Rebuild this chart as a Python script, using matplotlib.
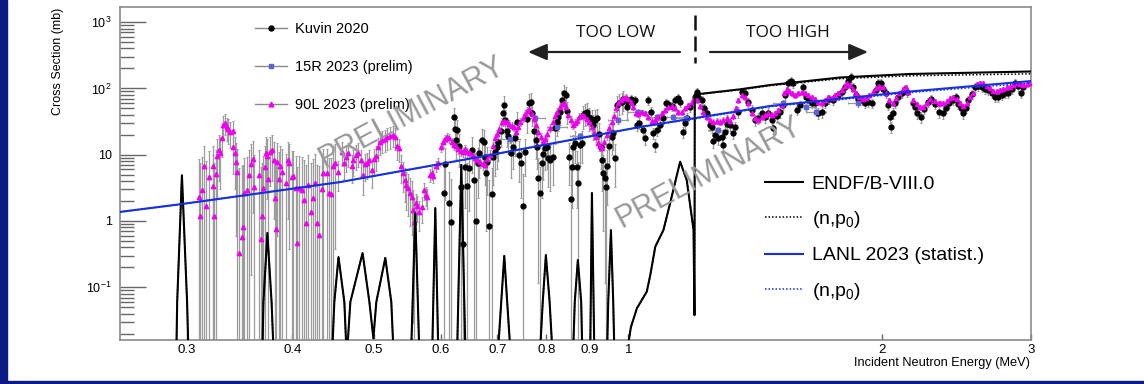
import numpy as np
import matplotlib
matplotlib.use("Agg")
import matplotlib.pyplot as plt
from matplotlib.lines import Line2D
from matplotlib.patches import Rectangle, FancyArrowPatch
from matplotlib.ticker import FixedLocator, FixedFormatter, NullLocator

plt.rcParams['font.family'] = ['Liberation Sans', 'DejaVu Sans']
plt.rcParams['mathtext.fontset'] = 'custom'
plt.rcParams['mathtext.rm'] = 'Liberation Sans'
plt.rcParams['mathtext.default'] = 'regular'

# ---------------- data ----------------
# Kuvin 2020 (MeV, mb)
kuvin_E = [
    0.6055, 0.6071, 0.6136, 0.6171, 0.6222, 0.6238, 0.6255, 0.6272, 0.6305, 0.6342,
    0.6377, 0.6412, 0.6446, 0.6481, 0.6535, 0.657, 0.6606, 0.6641, 0.6659, 0.6716,
    0.6752, 0.6771, 0.6789, 0.6807, 0.6843, 0.6902, 0.692, 0.6958, 0.6995, 0.7014,
    0.7072, 0.7111, 0.7131, 0.715, 0.7188, 0.7207, 0.7268, 0.7307, 0.7347, 0.7386,
    0.7426, 0.7469, 0.751, 0.7551, 0.7591, 0.7632, 0.7676, 0.7697, 0.7739, 0.7781,
    0.7801, 0.7822, 0.7866, 0.7909, 0.7931, 0.7974, 0.8016, 0.8038, 0.8083, 0.8149,
    0.8194, 0.8237, 0.8259, 0.8307, 0.8353, 0.8398, 0.8443, 0.8466, 0.8511, 0.856,
    0.8584, 0.8607, 0.8654, 0.870, 0.8723, 0.8772, 0.882, 0.8844, 0.8892, 0.894,
    0.8988, 0.9066, 0.909, 0.914, 0.9188, 0.9238, 0.929, 0.9316, 0.9341, 0.9392,
    0.9417, 0.9442, 0.9493, 0.9573, 0.9599, 0.9651, 0.9703, 0.9755, 0.9838, 0.9864,
    0.9971, 1.000, 1.008, 1.014, 1.019, 1.025, 1.030, 1.041, 1.047, 1.056,
    1.065, 1.071, 1.077, 1.082, 1.091, 1.100, 1.109, 1.115, 1.127, 1.136,
    1.145, 1.152, 1.161, 1.168, 1.174, 1.184, 1.200, 1.207, 1.210, 1.224,
    1.230, 1.240, 1.251, 1.258, 1.261, 1.268, 1.278, 1.292, 1.296, 1.303,
    1.310, 1.321, 1.332, 1.339, 1.350, 1.364, 1.376, 1.387, 1.402, 1.413,
    1.424, 1.441, 1.453, 1.464, 1.481, 1.485, 1.501, 1.514, 1.526, 1.535,
    1.547, 1.559, 1.568, 1.585, 1.598, 1.611, 1.624, 1.637, 1.652, 1.666,
    1.679, 1.697, 1.711, 1.730, 1.749, 1.759, 1.773, 1.792, 1.806, 1.821,
    1.837, 1.847, 1.862, 1.872, 1.892, 1.908, 1.923, 1.945, 1.966, 1.976,
    1.993, 2.004, 2.021, 2.031, 2.043, 2.049, 2.060, 2.071, 2.088, 2.111,
    2.128, 2.139, 2.175, 2.187, 2.198, 2.222, 2.240, 2.264, 2.284, 2.309,
    2.334, 2.360, 2.379, 2.399, 2.425, 2.444, 2.457, 2.479, 2.492, 2.513,
    2.526, 2.554, 2.575, 2.595, 2.624, 2.646, 2.667, 2.698, 2.720, 2.742,
    2.772, 2.795, 2.817, 2.849, 2.872, 2.895, 2.919, 2.935]
kuvin_xs = [
    2.64, 7.24, 1.87, 0.970, 37.0, 24.4, 16.7, 23.6, 13.5, 3.26,
    0.450, 6.52, 3.37, 6.30, 11.8, 4.15, 1.00, 7.50, 10.6, 16.7,
    15.6, 9.24, 5.30, 7.76, 0.840, 2.55, 9.24, 11.0, 13.1, 15.6,
    22.8, 42.5, 56.2, 33.4, 22.8, 19.1, 10.6, 13.1, 17.8, 31.2,
    9.90, 7.50, 1.68, 11.0, 34.5, 60.2, 62.3, 42.5, 22.8, 16.7,
    13.1, 4.45, 2.64, 7.50, 10.3, 12.6, 13.1, 8.92, 8.32, 9.24,
    25.3, 31.2, 37.0, 44.0, 66.8, 85.2, 79.5, 45.6, 9.24, 2.15,
    6.52, 13.1, 15.0, 6.52, 3.74, 14.0, 15.0, 39.7, 42.5, 44.0,
    37.0, 34.5, 28.1, 33.4, 35.8, 20.5, 13.1, 8.32, 5.30, 4.45,
    3.26, 6.75, 13.5, 18.5, 21.3, 8.92, 56.2, 60.2, 62.3, 69.2,
    52.4, 60.2, 69.2, 62.3, 66.8, 28.1, 30.1, 23.6, 17.8, 66.8,
    44.0, 21.3, 14.0, 23.6, 28.1, 35.8, 60.2, 58.1, 54.2, 66.8,
    71.6, 62.3, 22.0, 30.1, 35.8, 52.4, 74.2, 88.3, 74.2, 66.8,
    50.6, 42.5, 28.1, 26.2, 16.1, 19.8, 17.8, 18.5, 14.0, 22.0,
    29.1, 28.1, 21.3, 26.2, 44.0, 88.3, 85.2, 62.3, 47.2, 33.4,
    35.8, 42.5, 37.0, 42.5, 33.4, 25.3, 38.4, 44.0, 56.2, 79.5,
    120.7, 129.5, 120.7, 47.2, 56.2, 105, 74.2, 66.8, 60.2, 60.2,
    42.5, 44.0, 60.2, 69.2, 66.8, 74.2, 79.5, 88.3, 105, 129.5,
    148, 105, 79.5, 69.2, 66.8, 60.2, 62.3, 60.2, 94.6, 120.7,
    120.7, 97.9, 85.2, 56.2, 37.0, 26.2, 42.5, 60.2, 74.2, 85.2,
    97.9, 88.3, 60.2, 52.4, 42.5, 37.0, 48.9, 62.3, 69.2, 58.1,
    44.0, 42.5, 50.6, 60.2, 66.8, 74.2, 58.1, 50.6, 42.5, 50.6,
    66.8, 82.3, 105, 108.7, 105, 97.9, 94.6, 85.2, 74.2, 74.2,
    79.5, 85.2, 85.2, 97.9, 120.7, 108.7, 85.2, 105]

# 15R 2023 (prelim)
r15_E = [0.725, 0.776, 0.824, 0.877, 0.973, 1.027, 1.082, 1.130, 1.171, 1.278,
         1.526, 1.624, 1.670, 1.872]
r15_xs = [17.3, 35.8, 26.2, 19.1, 33.4, 44.0, 37.0, 37.0, 35.8, 23.6,
          60.2, 52.4, 44.0, 60.2]

# 90L 2023 (prelim)
l90_E = [
    0.310, 0.311, 0.313, 0.314, 0.316, 0.319, 0.322, 0.3225, 0.3234, 0.3251,
    0.326, 0.3278, 0.3288, 0.3306, 0.3315, 0.3333, 0.3351, 0.336, 0.3379, 0.3398,
    0.3407, 0.3425, 0.3434, 0.3444, 0.3462, 0.3491, 0.350, 0.351, 0.3538, 0.3557,
    0.3578, 0.3597, 0.3607, 0.3656, 0.3677, 0.3687, 0.3697, 0.3717, 0.3727, 0.3737,
    0.3747, 0.3768, 0.3789, 0.3809, 0.382, 0.383, 0.384, 0.3861, 0.3873, 0.3894,
    0.3937, 0.3957, 0.3968, 0.4002, 0.4013, 0.4035, 0.4056, 0.4078, 0.4111, 0.4134,
    0.4156, 0.4178, 0.4213, 0.4236, 0.426, 0.4282, 0.4305, 0.4343, 0.4354, 0.4402,
    0.4425, 0.4449, 0.4473, 0.4498, 0.4534,
    0.4585, 0.461, 0.4635, 0.4659, 0.4712, 0.4724, 0.4763, 0.4788, 0.4829, 0.4855,
    0.4882, 0.4908, 0.4934, 0.4976, 0.5003, 0.503, 0.5057, 0.5085, 0.5113, 0.5155,
    0.5182, 0.5226, 0.5269, 0.5298, 0.5326, 0.5354, 0.5385, 0.5414, 0.5444, 0.5458,
    0.5487, 0.5518, 0.5548, 0.5563, 0.5579, 0.5608, 0.5623, 0.5654, 0.5702, 0.5733,
    0.5764, 0.5779, 0.5828, 0.586, 0.5876, 0.5924, 0.5955, 0.6005, 0.6038, 0.6071,
    0.6103, 0.6136, 0.6188, 0.6222, 0.6255, 0.6288, 0.6342, 0.6377, 0.6412, 0.6446,
    0.6499, 0.6552, 0.6588, 0.6623, 0.6679, 0.6734, 0.6771, 0.6807, 0.6864, 0.692,
    0.6958, 0.6995, 0.7033, 0.7092, 0.7131, 0.7188, 0.7227, 0.7288, 0.7328, 0.7367,
    0.7406, 0.7449, 0.751, 0.7551, 0.7591, 0.7632, 0.7697, 0.7739, 0.7781, 0.7822,
    0.7887, 0.7931, 0.7974, 0.8016, 0.8083, 0.8149, 0.8194, 0.8237, 0.8307, 0.8353,
    0.8398, 0.8443, 0.8488, 0.856, 0.8607, 0.8654, 0.870, 0.8747, 0.882, 0.8868,
    0.894, 0.8988, 0.9066, 0.9115, 0.9164, 0.9213, 0.9265, 0.9316, 0.9367, 0.9442,
    0.9493, 0.9573, 0.9626, 0.9677, 0.9729, 0.981, 0.9864, 0.9944, 1.000, 1.008,
    1.014, 1.022, 1.027, 1.039, 1.047, 1.056, 1.068, 1.077, 1.085, 1.097,
    1.106, 1.115, 1.127, 1.136, 1.145, 1.158, 1.168, 1.177, 1.191, 1.197,
    1.207, 1.217, 1.227, 1.240, 1.251, 1.261, 1.275, 1.285, 1.296, 1.310,
    1.321, 1.332, 1.343, 1.350, 1.364, 1.376, 1.387, 1.402, 1.413, 1.424,
    1.441, 1.453, 1.464, 1.481, 1.493, 1.505, 1.522, 1.531, 1.543, 1.551,
    1.564, 1.576, 1.589, 1.607, 1.620, 1.633, 1.652, 1.666, 1.679, 1.697,
    1.711, 1.725, 1.745, 1.759, 1.773, 1.792, 1.806, 1.816, 1.832, 1.847,
    1.862, 1.877, 1.897, 1.913, 1.928, 1.950, 1.966, 1.982, 2.004, 2.021,
    2.037, 2.060, 2.077, 2.093, 2.116, 2.133, 2.145, 2.175, 2.198, 2.216,
    2.234, 2.258, 2.278, 2.309, 2.334, 2.341, 2.360, 2.386, 2.405, 2.425,
    2.451, 2.472, 2.492, 2.519, 2.540, 2.561, 2.589, 2.610, 2.631, 2.660,
    2.683, 2.705, 2.734, 2.757, 2.780, 2.810, 2.833, 2.856, 2.887, 2.911,
    2.935, 2.967, 2.983]
l90_xs = [
    2.30, 1.19, 2.93, 6.75, 1.68, 4.61, 3.37, 6.75, 1.19, 5.11,
    9.56, 11.8, 10.6, 17.8, 28.1, 30.1, 26.2, 24.4, 22.0, 22.8,
    13.1, 10.6, 7.76, 5.49, 0.329, 0.574, 0.812, 2.64, 2.93, 4.94,
    7.24, 8.61, 3.26, 4.94, 0.535, 1.19, 3.14, 6.52, 10.6, 9.56,
    4.30, 11.0, 11.8, 8.32, 2.23, 0.757, 7.76, 4.30, 6.75, 5.49,
    3.74, 8.32, 7.50, 4.61, 4.7, 3.14, 0.466, 3.14, 2.93, 2.07,
    0.937, 3.49, 1.37, 2.23, 3.74, 0.937, 0.615, 3.04, 5.30, 5.30,
    2.64, 2.55, 6.75, 7.50, 5.49,
    11.0, 7.50, 9.24, 10.6, 6.75, 8.32, 9.90, 10.6, 8.32, 4.94,
    7.24, 7.50, 8.32, 5.88, 8.61, 9.56, 13.1, 15.6, 16.7, 17.3,
    18.5, 19.1, 19.8, 18.5, 13.5, 12.6, 6.75, 5.30, 4.15, 3.49,
    3.14, 2.64, 2.30, 1.47, 0.970, 1.87, 1.68, 1.37, 1.62, 2.93,
    2.47, 2.30, 4.94, 5.30, 4.77, 6.75, 7.50, 13.1, 15.6, 17.3,
    18.5, 17.8, 15.6, 14.0, 13.5, 12.2, 11.4, 11.0, 12.2, 11.0,
    10.6, 9.90, 8.92, 8.32, 7.76, 7.24, 6.99, 8.61, 9.90, 13.5,
    17.8, 20.5, 24.4, 31.2, 32.3, 31.2, 29.1, 27.1, 26.2, 22.0,
    26.2, 31.2, 35.8, 41.1, 45.6, 48.9, 41.1, 34.5, 28.1, 22.0,
    18.5, 15.6, 17.3, 20.5, 25.3, 31.2, 38.4, 44.0, 52.4, 58.1,
    60.2, 52.4, 39.7, 33.4, 28.1, 30.1, 32.3, 37.0, 39.7, 38.4,
    34.5, 31.2, 26.2, 21.3, 18.5, 15.0, 13.5, 12.6, 15.6, 19.8,
    25.3, 31.2, 38.4, 50.6, 60.2, 66.8, 71.6, 74.2, 69.2, 62.3,
    52.4, 42.5, 41.1, 44.0, 42.5, 37.0, 32.3, 33.4, 37.0, 42.5,
    47.2, 52.4, 54.2, 50.6, 44.0, 44.0, 50.6, 56.2, 62.3, 71.6,
    66.8, 54.2, 44.0, 37.0, 33.4, 31.2, 32.3, 31.2, 33.4, 35.8,
    32.3, 38.4, 50.6, 66.8, 79.5, 74.2, 60.2, 42.5, 35.8, 33.4,
    37.0, 39.7, 42.5, 39.7, 42.5, 47.2, 56.2, 85.2, 97.9, 91.4,
    85.2, 79.5, 85.2, 88.3, 85.2, 79.5, 74.2, 69.2, 62.3, 60.2,
    66.8, 74.2, 71.6, 79.5, 85.2, 94.6, 108.7, 120.7, 112.5, 97.9,
    85.2, 74.2, 69.2, 71.6, 79.5, 88.3, 101, 108.7, 105, 85.2,
    66.8, 60.2, 71.6, 85.2, 97.9, 105, 88.3, 66.8, 58.1, 52.4,
    52.4, 60.2, 69.2, 64.5, 60.2, 59.5, 60.2, 64.5, 71.6, 74.2,
    69.2, 60.2, 54.2, 60.2, 74.2, 85.2, 116.6, 120.7, 120.7, 108.7,
    101, 91.4, 91.4, 94.6, 97.9, 105, 105, 112.5, 120.7, 116.6,
    112.5, 116.6, 120.7]

# ENDF/B-VIII.0 evaluation (MeV, mb); values below the frame are out of view
endf_E = [0.25, 0.2916, 0.2922, 0.2960, 0.3002, 0.3012,
          0.3687, 0.3697, 0.3737, 0.3780, 0.3799,
          0.4461, 0.4486, 0.4537, 0.4610, 0.4635,
          0.4648, 0.4686, 0.4845, 0.4936, 0.4990, 0.5030, 0.5155, 0.5240, 0.5269,
          0.5533, 0.5594, 0.5654,
          0.5860, 0.5908, 0.5955,
          0.6272, 0.6342, 0.6412,
          0.7014, 0.7072, 0.7131, 0.7188, 0.7248,
          0.7866, 0.7920, 0.7988, 0.8070, 0.8127,
          0.8607, 0.8643, 0.8716, 0.8796, 0.8820,
          0.9016, 0.9057, 0.9115,
          0.9442, 0.9469, 0.9539, 0.9599, 0.9626,
          0.998, 1.0074, 1.0239, 1.0519, 1.062, 1.0766, 1.1008, 1.121, 1.152,
          1.173, 1.195, 1.198,
          1.199, 1.357, 1.473, 1.782, 2.157, 3.0]
endf_xs = [0.005, 0.012, 0.06, 4.9, 0.06, 0.012,
           0.012, 0.06, 0.659, 0.06, 0.012,
           0.012, 0.06, 0.286, 0.06, 0.012,
           0.012, 0.06, 0.329, 0.06, 0.017, 0.06, 0.277, 0.06, 0.012,
           0.012, 1.3, 0.012,
           0.012, 1.57, 0.012,
           0.012, 7.0, 0.012,
           0.012, 0.06, 0.297, 0.06, 0.012,
           0.012, 0.06, 0.307, 0.06, 0.012,
           0.012, 0.06, 0.258, 0.06, 0.012,
           0.012, 2.64, 0.012,
           0.012, 0.06, 0.731, 0.06, 0.012,
           0.012, 0.0252, 0.0482, 0.0859, 0.153, 0.410, 0.731, 1.85, 7.84,
           4.15, 0.731, 0.038,
           80.9, 96.9, 112.5, 146, 165, 180]
# ENDF (n,p0) partial: identical below 1.2 MeV, slightly lower above
endf_np0_hiE = [1.199, 1.357, 1.473, 1.782, 2.157, 3.0]
endf_np0_hixs = [80.0, 95.5, 110.0, 140.0, 155.0, 166.0]

# LANL 2023 statistical calculation
lanl_E = [0.25, 0.2948, 0.456, 0.6864, 1.033, 1.473, 2.157, 3.0]
lanl_xs = [1.37, 1.79, 3.87, 9.9, 26.2, 54.3, 89.8, 129.0]
lanl_np0_xs = [1.37, 1.79, 3.87, 9.9, 26.0, 53.0, 86.5, 121.0]

# error-bar sizes per energy band
band_edges = [0.25, 0.45, 0.56, 1.0, 3.1]
l90_err_rel = [0.15, 0.30, 0.12, 0.08]
l90_err_abs = [6.0, 1.0, 0.5, 0.5]
kuvin_err_rel = [0.30, 0.30, 0.30, 0.15]
kuvin_err_abs = [3.0, 3.0, 3.0, 1.0]
r15_err_rel = 0.12
r15_bin_halfwidth = 0.028

x_ticks = [0.3, 0.4, 0.5, 0.6, 0.7, 0.8, 0.9, 1, 2, 3]
x_ticklabels = ['0.3', '0.4', '0.5', '0.6', '0.7', '0.8', '0.9', '1', '2', '3']
y_ticks = [0.1, 1, 10, 100, 1000]
y_ticklabels = [r'$10^{-1}$', '1', '10', r'$10^{2}$', r'$10^{3}$']

# ---------------- figure ----------------
W, H = 1144, 384
fig = plt.figure(figsize=(W / 100, H / 100), dpi=100)
fig.patch.set_facecolor('white')
ax = fig.add_axes([120 / W, 1 - 340 / H, 911 / W, 333 / H])
ax.set_xscale('log')
ax.set_yscale('log')
ax.set_xlim(0.25, 3.0)
ax.set_ylim(0.01603, 1690)


def band_err(E, xs, rel, absv):
    E = np.asarray(E)
    xs = np.asarray(xs)
    idx = np.clip(np.searchsorted(band_edges, E, side='right') - 1, 0, len(rel) - 1)
    return np.asarray(rel)[idx] * xs + np.asarray(absv)[idx]


k_err = band_err(kuvin_E, kuvin_xs, kuvin_err_rel, kuvin_err_abs)
l_err = band_err(l90_E, l90_xs, l90_err_rel, l90_err_abs)

ebar_kw = dict(fmt='none', ecolor='#9c9c9c', elinewidth=0.9, capsize=1.0,
               capthick=0.8, zorder=2)
ax.errorbar(kuvin_E, kuvin_xs, yerr=k_err, **ebar_kw)
ax.errorbar(l90_E, l90_xs, yerr=l_err, **ebar_kw)
ax.errorbar(r15_E, r15_xs, yerr=np.array(r15_xs) * r15_err_rel,
            xerr=np.array(r15_E) * r15_bin_halfwidth, **ebar_kw)

ax.plot(kuvin_E, kuvin_xs, 'o', color='black', ms=3.5, ls='none', zorder=3)
ax.plot(r15_E, r15_xs, 's', color='#5b63d6', ms=3.4, ls='none', zorder=3.5)
ax.plot(l90_E, l90_xs, '^', color='#f000f0', ms=3.1, ls='none', zorder=4)

n_low = endf_E.index(1.199)
endf_np0_E = endf_E[:n_low] + endf_np0_hiE
endf_np0_xs = endf_xs[:n_low] + endf_np0_hixs

ax.plot(endf_E, endf_xs, color='black', lw=1.5, zorder=5)
ax.plot(endf_np0_E, endf_np0_xs, color='black', lw=1.1, ls=(0, (1, 1.3)), zorder=5.1)
ax.plot(lanl_E, lanl_xs, color='#1530e0', lw=1.5, zorder=5)
ax.plot(lanl_E, lanl_np0_xs, color='#1530e0', lw=1.1, ls=(0, (1, 1.3)), zorder=5.1)

# axes styling
ax.xaxis.set_major_locator(FixedLocator(x_ticks))
ax.xaxis.set_major_formatter(FixedFormatter(x_ticklabels))
ax.xaxis.set_minor_locator(NullLocator())
ax.yaxis.set_major_locator(FixedLocator(y_ticks))
ax.yaxis.set_major_formatter(FixedFormatter(y_ticklabels))
ax.yaxis.set_minor_locator(FixedLocator([m * 10.0 ** k for k in range(-2, 4)
                                         for m in range(2, 10)]))
ax.tick_params(axis='y', which='major', direction='in', length=19, width=1,
               color='#666666', labelsize=9, pad=6)
ax.tick_params(axis='y', which='minor', direction='in', length=10, width=1,
               color='#666666')
ax.tick_params(axis='x', which='major', direction='in', length=4, width=1,
               color='#666666', labelsize=9.5, pad=3)
for s in ax.spines.values():
    s.set_color('#8a8a8a')
    s.set_linewidth(1.2)

fig.text(58 / W, 1 - 8 / H, 'Cross Section (mb)', rotation=90, ha='center',
         va='top', fontsize=9)
fig.text(1030 / W, 1 - 363 / H, 'Incident Neutron Energy (MeV)', ha='right',
         va='center', fontsize=9.2)

# legends
h1 = [Line2D([], [], color='#8a8a8a', lw=1, marker='o', ms=3.6, mfc='black', mec='black'),
      Line2D([], [], color='#8a8a8a', lw=1, marker='s', ms=3.4, mfc='#5b63d6', mec='#5b63d6'),
      Line2D([], [], color='#8a8a8a', lw=1, marker='^', ms=3.4, mfc='#f000f0', mec='#f000f0')]
leg1 = ax.legend(h1, ['Kuvin 2020', '15R 2023 (prelim)', '90L 2023 (prelim)'],
                 loc='upper left', bbox_to_anchor=(0.148, 0.955), frameon=False,
                 fontsize=10.5, handlelength=2.2, handletextpad=0.55,
                 labelspacing=1.65, borderpad=0, borderaxespad=0)
leg1.set_zorder(20)
ax.add_artist(leg1)

h2 = [Line2D([], [], color='black', lw=1.5),
      Line2D([], [], color='black', lw=1.1, ls=(0, (1, 1.3))),
      Line2D([], [], color='#1530e0', lw=1.5),
      Line2D([], [], color='#1530e0', lw=1.1, ls=(0, (1, 1.3)))]
leg2 = ax.legend(h2, ['ENDF/B-VIII.0', r'(n,p$_0$)', 'LANL 2023 (statist.)', r'(n,p$_0$)'],
                 loc='upper left', bbox_to_anchor=(0.708, 0.495), frameon=False,
                 fontsize=14, handlelength=1.95, handletextpad=0.45,
                 labelspacing=0.85, borderpad=0, borderaxespad=0)
leg2.set_zorder(20)

# watermarks
for cx, cy in [(412, 113), (709, 173)]:
    fig.text(cx / W, 1 - cy / H, 'PRELIMINARY', rotation=28, ha='center',
             va='center', fontsize=22, color='#999999', zorder=30)

# slide annotations
fig.text(616 / W, 1 - 33 / H, 'TOO LOW', family=['Open Sans', 'DejaVu Sans'],
         fontsize=12.5, ha='center', va='center', color='#111111')
fig.text(788 / W, 1 - 33 / H, 'TOO HIGH', family=['Open Sans', 'DejaVu Sans'],
         fontsize=12.5, ha='center', va='center', color='#111111')
for x0, x1 in [(680, 528), (710, 868)]:
    fig.add_artist(FancyArrowPatch((x0 / W, 1 - 52 / H), (x1 / W, 1 - 52 / H),
                                   transform=fig.transFigure,
                                   arrowstyle='-|>,head_length=1.15,head_width=0.5',
                                   mutation_scale=10, lw=1.6, color='#222222',
                                   shrinkA=0, shrinkB=0))
fig.add_artist(Line2D([695 / W, 695 / W], [1 - 15 / H, 1 - 63 / H],
                      transform=fig.transFigure, color='#111111', lw=1.8,
                      dashes=(6, 2.4)))

# slide frame
navy = '#0b1a85'
fig.add_artist(Rectangle((0, 0), 7 / W, 1, transform=fig.transFigure,
                         color=navy, zorder=0))
fig.add_artist(Rectangle((0, 0), 1, 3 / H, transform=fig.transFigure,
                         color=navy, zorder=0))

fig.savefig('out.png', dpi=100)
